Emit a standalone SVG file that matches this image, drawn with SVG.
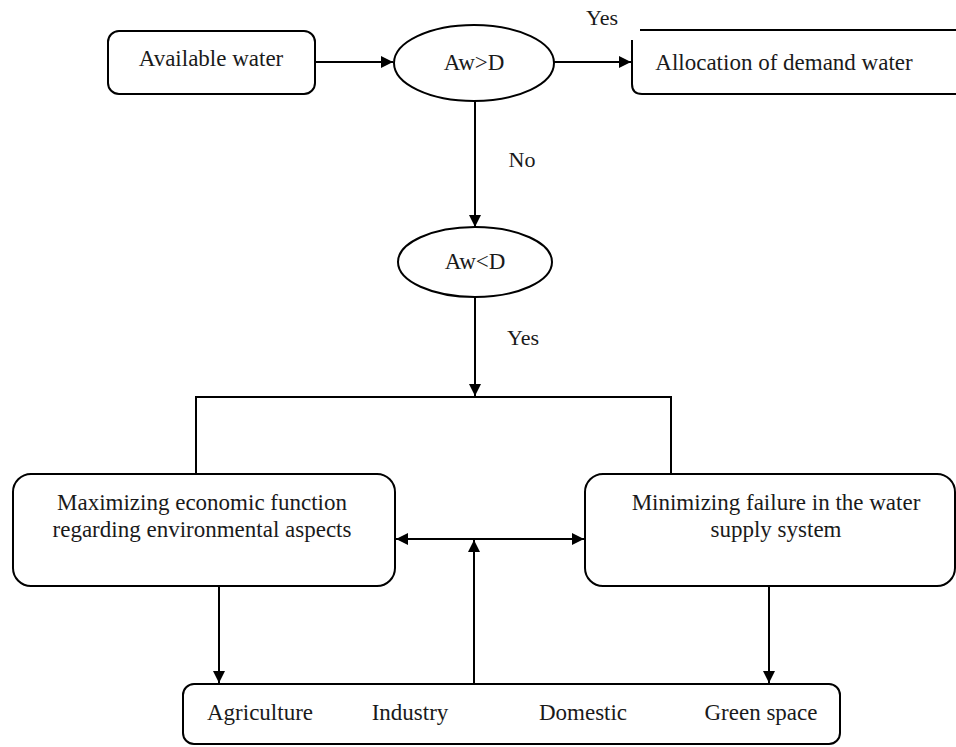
<svg xmlns="http://www.w3.org/2000/svg" width="956" height="747" viewBox="0 0 956 747">
<style>
.n{fill:#fff;stroke:#000;stroke-width:2}
.c{fill:none;stroke:#000;stroke-width:2}
.t{font-family:"Liberation Serif","Times New Roman",serif;font-size:23px;fill:#1a1a1a;text-anchor:middle}
.l{font-family:"Liberation Serif","Times New Roman",serif;font-size:22px;fill:#1a1a1a;text-anchor:middle}
</style>
<defs>
<marker id="a" viewBox="0 0 12 12" refX="12" refY="6" markerWidth="12" markerHeight="12" markerUnits="userSpaceOnUse" orient="auto-start-reverse">
<path d="M0,0 L12,6 L0,12 Z" fill="#000"/>
</marker>
</defs>
<rect width="956" height="747" fill="#fff"/>
<g id="connectors">
<line class="c" x1="315" y1="62" x2="393" y2="62" marker-end="url(#a)"/>
<line class="c" x1="553" y1="62" x2="631" y2="62" marker-end="url(#a)"/>
<line class="c" x1="475" y1="101" x2="475" y2="227" marker-end="url(#a)"/>
<line class="c" x1="475" y1="297" x2="475" y2="396" marker-end="url(#a)"/>
<polyline class="c" points="196,474 196,397 671,397 671,474"/>
<line class="c" x1="396" y1="539" x2="584" y2="539" marker-start="url(#a)" marker-end="url(#a)"/>
<line class="c" x1="474" y1="684" x2="474" y2="540" marker-end="url(#a)"/>
<line class="c" x1="219" y1="586" x2="219" y2="683" marker-end="url(#a)"/>
<line class="c" x1="769" y1="586" x2="769" y2="683" marker-end="url(#a)"/>
</g>
<g id="labels">
<text class="l" x="602" y="25">Yes</text>
<text class="l" x="522" y="167">No</text>
<text class="l" x="523" y="345">Yes</text>
</g>
<g id="available">
<rect class="n" x="108" y="31" width="207" height="63" rx="11"/>
<text class="t" x="211" y="66">Available water</text>
</g>
<g id="awgtd">
<ellipse class="n" cx="474" cy="63" rx="80" ry="38"/>
<text class="t" x="474" y="70">Aw&gt;D</text>
</g>
<g id="allocation">
<line class="c" x1="640" y1="30" x2="958" y2="30"/>
<path class="c" d="M632,40 L632,84 Q632,94 642,94 L958,94"/>
<text class="t" x="784" y="70">Allocation of demand water</text>
</g>
<g id="awltd">
<ellipse class="n" cx="475" cy="262" rx="77" ry="35"/>
<text class="t" x="475" y="269">Aw&lt;D</text>
</g>
<g id="maximizing">
<rect class="n" x="13" y="474" width="382" height="112" rx="18"/>
<text class="t" x="202" y="510">Maximizing economic function</text>
<text class="t" x="202" y="537">regarding environmental aspects</text>
</g>
<g id="minimizing">
<rect class="n" x="585" y="474" width="370" height="112" rx="18"/>
<text class="t" x="776" y="510">Minimizing failure in the water</text>
<text class="t" x="776" y="537">supply system</text>
</g>
<g id="sectors">
<rect class="n" x="183" y="684" width="657" height="60" rx="11"/>
<text class="t" x="260" y="720">Agriculture</text>
<text class="t" x="410" y="720">Industry</text>
<text class="t" x="583" y="720">Domestic</text>
<text class="t" x="761" y="720">Green space</text>
</g>
</svg>
